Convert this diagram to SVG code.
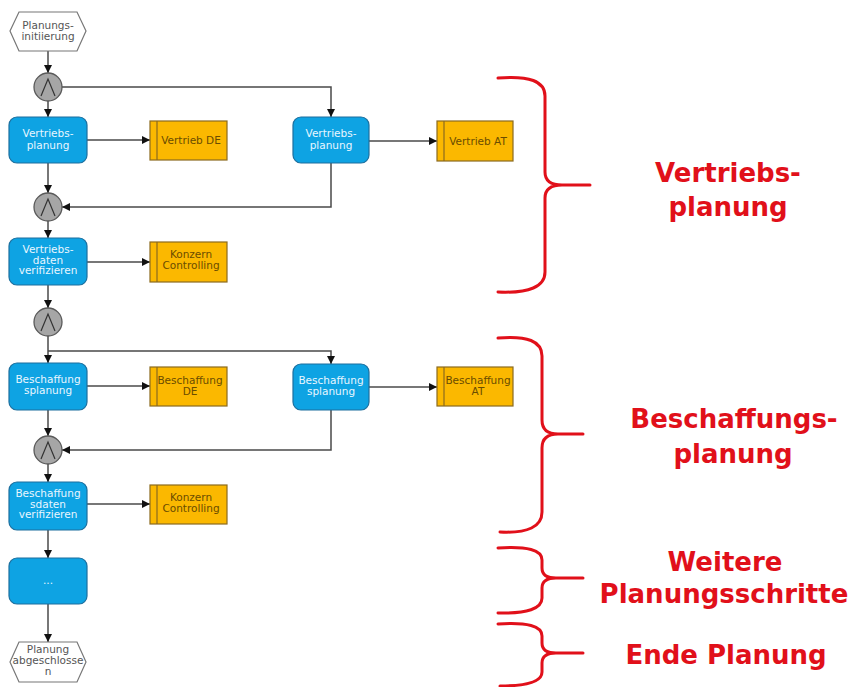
<svg xmlns="http://www.w3.org/2000/svg" width="852" height="687" viewBox="0 0 852 687">
<defs>
<marker id="arr" markerUnits="userSpaceOnUse" markerWidth="9" markerHeight="8" refX="8" refY="4" orient="auto">
<path d="M0,0 L8,4 L0,8 z" fill="#111"/>
</marker>
<g id="gw">
<circle cx="0" cy="0" r="14" fill="#a6a6a6" stroke="#5a5a5a" stroke-width="1.3"/>
<path d="M-7,9 L0,-8 L7,9" fill="none" stroke="#333" stroke-width="1.2"/>
</g>
</defs>
<style>
.fn{fill:#0ea3e3;stroke:#1d6f9e;stroke-width:1.2}
.org{fill:#fbb800;stroke:#8b6a1e;stroke-width:1.2}
.ev{fill:#fff;stroke:#777;stroke-width:1.2}
.t{font-family:"DejaVu Sans",Verdana,sans-serif;font-size:10.5px;text-anchor:middle}
.tf{fill:#e8f6ff}
.to{fill:#6a4c00}
.te{fill:#555}
.c{fill:none;stroke:#4a4a4a;stroke-width:1.5;marker-end:url(#arr)}
.br{fill:none;stroke:#e1101a;stroke-width:3;stroke-linecap:round}
.lab{font-family:"DejaVu Sans",Verdana,sans-serif;font-weight:bold;font-size:26px;fill:#e1101a;text-anchor:middle}
</style>
<rect width="852" height="687" fill="#fff"/>

<g id="connectors">
<path class="c" d="M48,51 L48,73"/>
<path class="c" d="M48,101 L48,117"/>
<path class="c" d="M62,87 L331,87 L331,117"/>
<path class="c" d="M87,140 L150,140"/>
<path class="c" d="M369,141 L437,141"/>
<path class="c" d="M48,163 L48,193"/>
<path class="c" d="M331,163 L331,207 L62,207"/>
<path class="c" d="M48,221 L48,238"/>
<path class="c" d="M87,262 L150,262"/>
<path class="c" d="M48,285 L48,308"/>
<path class="c" d="M48,336 L48,363"/>
<path class="c" d="M48,351 L331,351 L331,364"/>
<path class="c" d="M87,386 L150,386"/>
<path class="c" d="M369,387 L437,387"/>
<path class="c" d="M48,410 L48,436"/>
<path class="c" d="M331,410 L331,450 L62,450"/>
<path class="c" d="M48,464 L48,482"/>
<path class="c" d="M87,504 L150,504"/>
<path class="c" d="M48,530 L48,558"/>
<path class="c" d="M48,604 L48,642"/>
</g>

<g id="start">
<polygon class="ev" points="10,31 19,12 77,12 86,31 77,51 19,51"/>
<text class="t te" x="48" y="29">Planungs-</text>
<text class="t te" x="48" y="39.5">initiierung</text>
</g>

<g id="gw1"><use href="#gw" x="48" y="87"/></g>
<g id="gw2"><use href="#gw" x="48" y="207"/></g>
<g id="gw3"><use href="#gw" x="48" y="322"/></g>
<g id="gw4"><use href="#gw" x="48" y="450"/></g>

<g id="vp1">
<rect class="fn" x="9" y="117" width="78" height="46" rx="8"/>
<text class="t tf" x="48" y="137">Vertriebs-</text>
<text class="t tf" x="48" y="148.5">planung</text>
</g>
<g id="vde">
<rect class="org" x="150" y="121" width="77" height="39"/>
<line x1="157" y1="121" x2="157" y2="160" stroke="#8b6a1e" stroke-width="1.2"/>
<text class="t to" x="191" y="144">Vertrieb DE</text>
</g>
<g id="vp2">
<rect class="fn" x="293" y="117" width="76" height="46" rx="8"/>
<text class="t tf" x="331" y="137">Vertriebs-</text>
<text class="t tf" x="331" y="148.5">planung</text>
</g>
<g id="vat">
<rect class="org" x="437" y="121" width="76" height="40"/>
<line x1="444" y1="121" x2="444" y2="161" stroke="#8b6a1e" stroke-width="1.2"/>
<text class="t to" x="478" y="145">Vertrieb AT</text>
</g>
<g id="vdv">
<rect class="fn" x="9" y="238" width="78" height="47" rx="8"/>
<text class="t tf" x="48" y="253">Vertriebs-</text>
<text class="t tf" x="48" y="263.5">daten</text>
<text class="t tf" x="48" y="274">verifizieren</text>
</g>
<g id="kc1">
<rect class="org" x="150" y="242" width="77" height="40"/>
<line x1="157" y1="242" x2="157" y2="282" stroke="#8b6a1e" stroke-width="1.2"/>
<text class="t to" x="191" y="258">Konzern</text>
<text class="t to" x="191" y="269">Controlling</text>
</g>
<g id="bp1">
<rect class="fn" x="9" y="363" width="78" height="47" rx="8"/>
<text class="t tf" x="48" y="383">Beschaffung</text>
<text class="t tf" x="48" y="394">splanung</text>
</g>
<g id="bde">
<rect class="org" x="150" y="367" width="77" height="39"/>
<line x1="157" y1="367" x2="157" y2="406" stroke="#8b6a1e" stroke-width="1.2"/>
<text class="t to" x="190" y="384">Beschaffung</text>
<text class="t to" x="190" y="395">DE</text>
</g>
<g id="bp2">
<rect class="fn" x="293" y="364" width="76" height="46" rx="8"/>
<text class="t tf" x="331" y="384">Beschaffung</text>
<text class="t tf" x="331" y="395">splanung</text>
</g>
<g id="bat">
<rect class="org" x="437" y="367" width="76" height="39"/>
<line x1="444" y1="367" x2="444" y2="406" stroke="#8b6a1e" stroke-width="1.2"/>
<text class="t to" x="478" y="384">Beschaffung</text>
<text class="t to" x="478" y="395">AT</text>
</g>
<g id="bdv">
<rect class="fn" x="9" y="482" width="78" height="48" rx="8"/>
<text class="t tf" x="48" y="497">Beschaffung</text>
<text class="t tf" x="48" y="507.5">sdaten</text>
<text class="t tf" x="48" y="518">verifizieren</text>
</g>
<g id="kc2">
<rect class="org" x="150" y="485" width="77" height="39"/>
<line x1="157" y1="485" x2="157" y2="524" stroke="#8b6a1e" stroke-width="1.2"/>
<text class="t to" x="191" y="501">Konzern</text>
<text class="t to" x="191" y="512">Controlling</text>
</g>
<g id="more">
<rect class="fn" x="9" y="558" width="78" height="46" rx="8"/>
<text class="t tf" x="48" y="584">...</text>
</g>
<g id="end">
<polygon class="ev" points="10,662 19,642 77,642 86,662 77,682 19,682"/>
<text class="t te" x="48" y="653">Planung</text>
<text class="t te" x="48" y="664">abgeschlosse</text>
<text class="t te" x="48" y="675">n</text>
</g>

<g id="brackets">
<path class="br" d="M498,78 Q545,74 545,96 L545,172 Q545,185 562,185 L590,185 M562,185 Q545,185 545,198 L545,272 Q545,294 498,292"/>
<path class="br" d="M498,338 Q542,334 542,356 L542,420 Q542,434 558,434 L583,434 M558,434 Q542,434 542,448 L542,512 Q542,534 500,532"/>
<path class="br" d="M498,548 Q542,545 542,560 L542,568 Q542,578 556,578 L583,578 M556,578 Q542,578 542,588 L542,598 Q542,614 498,613"/>
<path class="br" d="M498,624 Q542,621 542,636 L542,643 Q542,653 556,653 L583,653 M556,653 Q542,653 542,663 L542,672 Q542,686 500,686"/>
</g>

<g id="labels">
<text class="lab" x="728" y="182">Vertriebs-</text>
<text class="lab" x="728" y="216">planung</text>
<text class="lab" x="734" y="428">Beschaffungs-</text>
<text class="lab" x="733" y="463">planung</text>
<text class="lab" x="725" y="571">Weitere</text>
<text class="lab" x="724" y="603">Planungsschritte</text>
<text class="lab" x="726" y="664">Ende Planung</text>
</g>
</svg>
